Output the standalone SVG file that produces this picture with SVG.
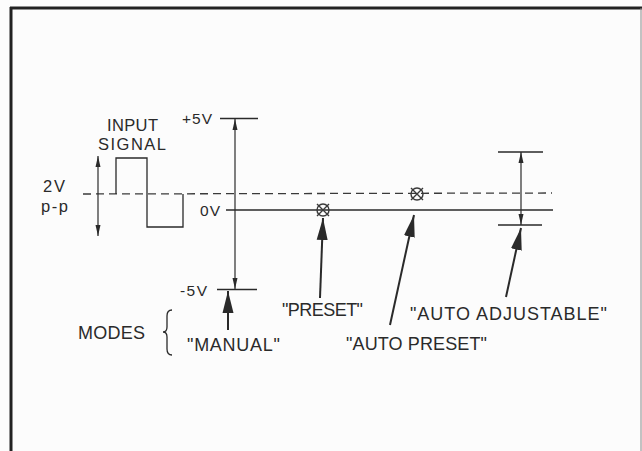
<svg xmlns="http://www.w3.org/2000/svg" width="642" height="451" viewBox="0 0 642 451">
<defs>
<style>
text{font-family:"Liberation Sans",Arial,sans-serif;fill:#2a2a2a;}
.lbl{font-size:18px;}
.sm{font-size:15.5px;}
.md{font-size:16.5px;}
.ln{stroke:#2a2a2a;stroke-width:1.3;fill:none;}
.dim{stroke:#2a2a2a;stroke-width:1.2;fill:none;marker-start:url(#dh);marker-end:url(#dh);}
.ptr{stroke:#2a2a2a;stroke-width:2;fill:none;marker-end:url(#ph);}
.dash{stroke:#3a3a3a;stroke-width:1.3;stroke-dasharray:8 5;fill:none;}
.mk{stroke:#3a3a3a;stroke-width:1.4;fill:none;}
</style>
<marker id="dh" markerUnits="userSpaceOnUse" markerWidth="12" markerHeight="6" refX="11" refY="3" orient="auto-start-reverse">
<path d="M0,0.5 L11,3 L0,5.5 Z" fill="#2a2a2a"/>
</marker>
<marker id="ph" markerUnits="userSpaceOnUse" markerWidth="24" markerHeight="12" refX="22" refY="6" orient="auto">
<path d="M0,0.5 L22,6 L0,11.5 Z" fill="#2a2a2a"/>
</marker>
</defs>
<rect width="642" height="451" fill="#fcfcfc"/>
<g id="frame">
<line x1="10" y1="8" x2="642" y2="8" stroke="#222" stroke-width="3"/>
<line x1="11" y1="7" x2="11" y2="451" stroke="#222" stroke-width="3"/>
<line x1="641" y1="8" x2="641" y2="451" stroke="#888" stroke-width="1"/>
</g>
<g id="connectors">
<line class="dash" x1="83" y1="194" x2="552" y2="193"/>
<line class="ln" x1="226" y1="210" x2="553" y2="210" stroke-width="1.6"/>
<path class="ln" d="M116,194 V158 H147 V227 H183 V194" stroke-width="1.5"/>
<line class="dim" x1="98" y1="156" x2="98" y2="236"/>
<line class="ln" x1="220" y1="118.5" x2="258" y2="118.5"/>
<line class="ln" x1="217" y1="289.5" x2="257" y2="289.5"/>
<line class="dim" x1="235" y1="119" x2="235" y2="289"/>
<line class="ln" x1="498" y1="152" x2="543" y2="152"/>
<line class="ln" x1="498" y1="225" x2="542" y2="225"/>
<line class="dim" x1="521" y1="152" x2="521" y2="225"/>
<line class="ptr" x1="228" y1="330" x2="228" y2="291"/>
<line class="ptr" x1="320" y1="298" x2="323" y2="218"/>
<line class="ptr" x1="390" y1="325" x2="414" y2="215"/>
<line class="ptr" x1="506" y1="297" x2="521" y2="228"/>
<path class="ln" d="M172,310 Q167,310 167,316 L167,327 Q167,332 163,332 Q167,332 167,337 L167,349 Q167,355 172,355" stroke-width="2.2"/>
</g>
<g id="preset-point">
<circle class="mk" cx="323" cy="210" r="6"/>
<path class="mk" d="M317,204 L329,216 M329,204 L317,216"/>
</g>
<g id="auto-preset-point">
<circle class="mk" cx="417" cy="194" r="6"/>
<path class="mk" d="M411,188 L423,200 M423,188 L411,200"/>
</g>
<g id="input-signal">
<text class="md" x="107" y="131" textLength="51" lengthAdjust="spacing">INPUT</text>
<text class="md" x="98" y="150" textLength="68" lengthAdjust="spacing">SIGNAL</text>
</g>
<g id="amplitude">
<text class="md" x="43" y="191.5" textLength="22" lengthAdjust="spacing">2V</text>
<text class="md" x="41" y="212" textLength="27" lengthAdjust="spacing">p-p</text>
</g>
<g id="levels">
<text class="sm" x="182" y="124" textLength="30" lengthAdjust="spacing">+5V</text>
<text class="sm" x="200" y="216" textLength="20" lengthAdjust="spacing">0V</text>
<text class="sm" x="180" y="296" textLength="27" lengthAdjust="spacing">-5V</text>
</g>
<g id="modes">
<text class="lbl" x="78" y="339" textLength="67" lengthAdjust="spacing">MODES</text>
</g>
<g id="manual">
<text class="lbl" x="187" y="351" textLength="93" lengthAdjust="spacing">"MANUAL"</text>
</g>
<g id="preset">
<text class="lbl" x="282" y="316" textLength="81" lengthAdjust="spacing">"PRESET"</text>
</g>
<g id="auto-preset">
<text class="lbl" x="346" y="350" textLength="141" lengthAdjust="spacing">"AUTO PRESET"</text>
</g>
<g id="auto-adjustable">
<text class="lbl" x="410" y="320" textLength="197" lengthAdjust="spacing">"AUTO ADJUSTABLE"</text>
</g>
</svg>
